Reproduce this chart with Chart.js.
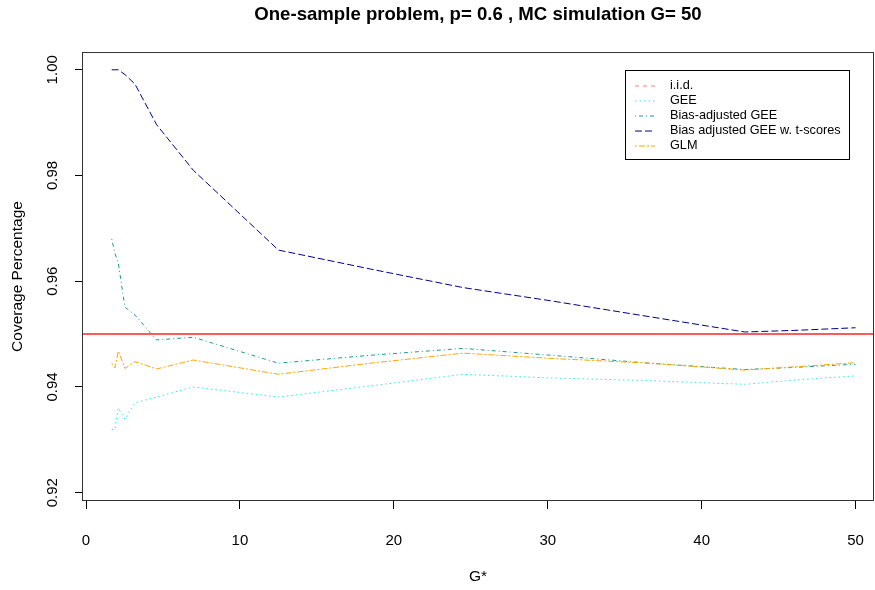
<!DOCTYPE html>
<html>
<head>
<meta charset="utf-8">
<script src="https://cdn.jsdelivr.net/npm/chart.js@4.4.1/dist/chart.umd.min.js"></script>
<style>
  body { margin: 0; background: #fff; }
  canvas { display: block; }
</style>
</head>
<body>
<canvas id="chart" width="875" height="590"></canvas>
<script>
// G* values (shared x for all curves)
const gStar = [1.67, 1.88, 2.1, 2.53, 3.18, 4.59, 6.97, 12.5, 18.5, 24.5, 30.2, 36.6, 42.8, 46, 50];

// coverage per method
const gee        = [0.9319, 0.9320, 0.9360, 0.9339, 0.9370, 0.9381, 0.9400, 0.9381, 0.9402, 0.9424, 0.9417, 0.9412, 0.9405, 0.9413, 0.9421];
const biasAdjGee = [0.9680, 0.9653, 0.9634, 0.9551, 0.9536, 0.9489, 0.9494, 0.9445, 0.9460, 0.9473, 0.9460, 0.9445, 0.9433, 0.9437, 0.9443];
const biasAdjGeeT = [1.0000, 1.0000, 1.0000, 0.9991, 0.9973, 0.9896, 0.9810, 0.9659, 0.9623, 0.9588, 0.9563, 0.9533, 0.9504, 0.9507, 0.9512];
const glm        = [0.9445, 0.9436, 0.9468, 0.9435, 0.9448, 0.9434, 0.9451, 0.9424, 0.9445, 0.9464, 0.9454, 0.9445, 0.9432, 0.9438, 0.9446];
const nominal = 0.95;

const xTicks = [0, 10, 20, 30, 40, 50];
const yTicks = [0.92, 0.94, 0.96, 0.98, 1.00];
const xRange = [-0.26, 51.2];
const yRange = [0.91843, 1.00336];

const FONT = "'Liberation Sans', Arial, sans-serif";

const pts = (ys) => gStar.map((g, i) => ({ x: g, y: ys[i] }));

// legend entries (R style: drawn inside the plot box)
const legendItems = [
  { label: 'i.i.d.', color: '#f08878', dash: [4, 4] },
  { label: 'GEE', color: '#22eeee', dash: [1.5, 3] },
  { label: 'Bias-adjusted GEE', color: '#1c9a92', dash: [1, 3, 4, 3] },
  { label: 'Bias adjusted GEE w. t-scores', color: '#00008b', dash: [7, 3] },
  { label: 'GLM', color: '#ffa500', dash: [2, 2, 6, 2] },
];

const boxPlugin = {
  id: 'boxPlugin',
  afterDraw(chart) {
    const { ctx, chartArea: a } = chart;
    ctx.save();
    ctx.strokeStyle = '#333';
    ctx.lineWidth = 1;
    ctx.strokeRect(a.left + 0.5, a.top + 0.5, a.right - a.left - 1, a.bottom - a.top - 1);

    // legend box
    const w = 224, h = 89;
    const lx = a.right - 249, ly = a.top + 17.5;
    ctx.fillStyle = '#fff';
    ctx.fillRect(lx, ly, w, h);
    ctx.strokeStyle = '#000';
    ctx.strokeRect(Math.round(lx) + 0.5, Math.round(ly) + 0.5, w, h);
    ctx.font = `12.7px ${FONT}`;
    ctx.textBaseline = 'middle';
    ctx.textAlign = 'left';
    legendItems.forEach((it, i) => {
      const y = ly + 16 + i * 15;
      ctx.beginPath();
      ctx.setLineDash(it.dash);
      ctx.strokeStyle = it.color;
      ctx.lineWidth = 1;
      ctx.moveTo(lx + 10, y + 0.5);
      ctx.lineTo(lx + 30, y + 0.5);
      ctx.stroke();
      ctx.setLineDash([]);
      ctx.fillStyle = '#000';
      ctx.fillText(it.label, lx + 45, y);
    });
    ctx.restore();
  }
};

const ctx = document.getElementById('chart');
new Chart(ctx, {
  type: 'line',
  data: {
    datasets: [
      {
        label: 'i.i.d.',
        data: [{ x: xRange[0], y: nominal }, { x: xRange[1], y: nominal }],
        borderColor: '#ff5a5a', borderWidth: 2, order: 0,
      },
      { label: 'GEE', data: pts(gee), borderColor: '#22eeee', borderDash: [1.5, 3], order: 4 },
      { label: 'Bias-adjusted GEE', data: pts(biasAdjGee), borderColor: '#1c9a92', borderDash: [1, 3, 4, 3], order: 3 },
      { label: 'Bias adjusted GEE w. t-scores', data: pts(biasAdjGeeT), borderColor: '#00008b', borderDash: [7, 3], order: 2 },
      { label: 'GLM', data: pts(glm), borderColor: '#ffa500', borderDash: [2, 2, 6, 2], order: 1 },
    ],
  },
  plugins: [boxPlugin],
  options: {
    responsive: false,
    animation: false,
    layout: { padding: { left: 0, right: 1, top: 0, bottom: 0 } },
    elements: {
      point: { radius: 0 },
      line: { borderWidth: 1, tension: 0, fill: false },
    },
    plugins: {
      legend: { display: false },
      tooltip: { enabled: false },
      title: {
        display: true,
        text: 'One-sample problem, p= 0.6 , MC simulation G= 50',
        color: '#000',
        fullSize: false,
        font: { family: FONT, size: 18.6, weight: 'bold' },
        padding: { top: 4, bottom: 25.7 },
      },
    },
    scales: {
      x: {
        type: 'linear',
        min: xRange[0],
        max: xRange[1],
        afterBuildTicks: (s) => { s.ticks = xTicks.map((v) => ({ value: v })); },
        afterFit: (s) => { s.height = 89; s.paddingLeft = 0; s.paddingRight = 0; },
        grid: { drawOnChartArea: false, tickLength: 8, color: '#000' },
        border: { display: false },
        ticks: {
          color: '#000',
          font: { family: FONT, size: 15 },
          padding: 23,
          maxRotation: 0,
        },
        title: {
          display: true,
          text: 'G*',
          color: '#000',
          font: { family: FONT, size: 15.5 },
          padding: { top: 0, bottom: 3.7 },
        },
      },
      y: {
        type: 'linear',
        min: yRange[0],
        max: yRange[1],
        afterBuildTicks: (s) => { s.ticks = yTicks.map((v) => ({ value: v })); },
        afterFit: (s) => { s.width = 82; s.paddingTop = 0; s.paddingBottom = 0; },
        grid: { drawOnChartArea: false, tickLength: 7, color: '#000' },
        border: { display: false },
        ticks: {
          color: '#000',
          font: { family: FONT, size: 15 },
          minRotation: 90,
          maxRotation: 90,
          crossAlign: 'center',
          padding: 7.4,
          callback: (v) => v.toFixed(2),
        },
        title: {
          display: true,
          text: 'Coverage Percentage',
          color: '#000',
          font: { family: FONT, size: 15.5 },
          padding: { top: 8.7, bottom: 0 },
        },
      },
    },
  },
});
</script>
</body>
</html>
